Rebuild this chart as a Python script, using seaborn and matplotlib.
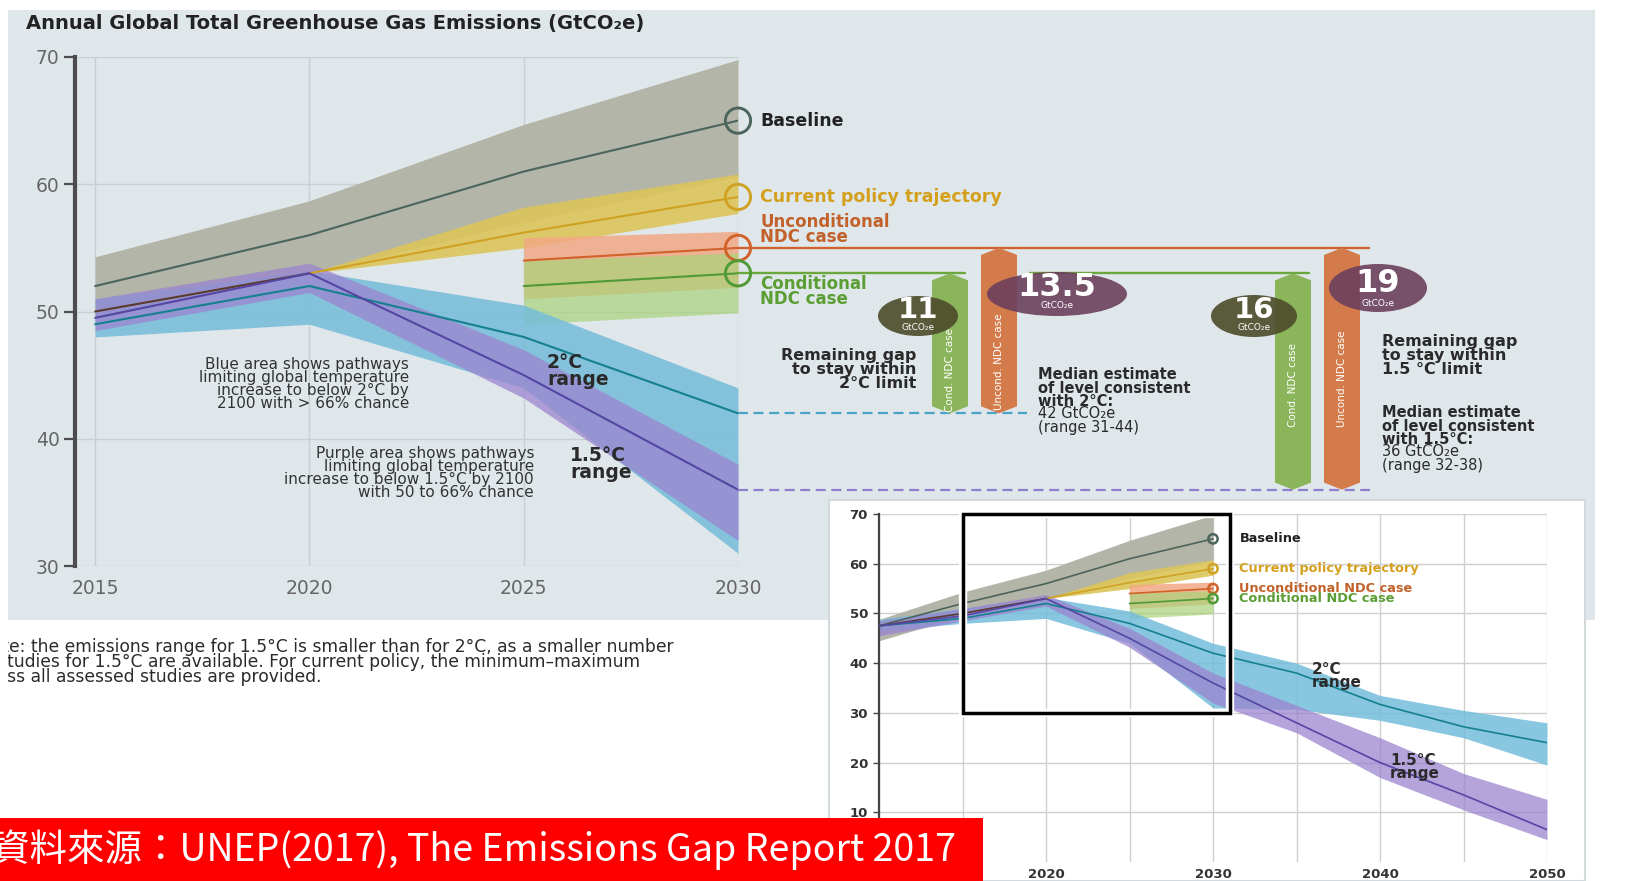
import matplotlib
matplotlib.use("Agg")
import pandas as pd
import matplotlib.pyplot as plt
import seaborn as sns
from matplotlib.patches import Rectangle, Ellipse, Polygon

# ---------------- values (GtCO2e) ----------------
years = [2015, 2020, 2025, 2030]
baseline_mid = [52, 56, 61, 65]
baseline_lo = [49.5, 53, 57, 60.6]
baseline_hi = [54.3, 58.7, 64.7, 69.8]

hist_years = [2015, 2020]
hist_mid = [50, 53]

policy_years = [2020, 2025, 2030]
policy_mid = [53, 56.2, 59]
policy_lo = [53, 55, 57.7]
policy_hi = [53, 58.2, 60.8]

ndc_years = [2025, 2030]
uncond_mid = [54, 55]
uncond_lo = [51, 51.9]
uncond_hi = [55.8, 56.3]
cond_mid = [52, 53]
cond_lo = [49, 49.9]
cond_hi = [54, 54.6]

deg2_mid = [49, 52, 48, 42]
deg2_lo = [48, 49, 44, 31]
deg2_hi = [51, 53.2, 50.5, 44]

deg15_mid = [49.5, 53, 45, 36]
deg15_lo = [48.5, 51.5, 43.2, 32]
deg15_hi = [51, 53.8, 47, 38]

# small panel, 2010-2050
long_years = [2010, 2015, 2020, 2025, 2030, 2035, 2040, 2045, 2050]
long_deg2_mid = [47.5, 49, 52, 48, 42, 38, 31.7, 27.2, 24]
long_deg2_lo = [46.5, 48, 49, 44, 31, 30.7, 28.5, 25, 19.5]
long_deg2_hi = [48.8, 51, 53.2, 50.5, 44, 40, 33.5, 30.5, 28]
long_deg15_mid = [47.5, 49.5, 53, 45, 36, 28, 20, 13.5, 6.5]
long_deg15_lo = [45.5, 48.5, 51.5, 43.2, 32, 26, 17, 10.5, 4.5]
long_deg15_hi = [48.5, 51, 53.8, 47, 38, 31.5, 25, 17.8, 12.6]
long_base_years = [2010, 2015, 2020, 2025, 2030]
long_base_mid = [47.5, 52, 56, 61, 65]
long_base_lo = [44.5, 49.5, 53, 57, 60.6]
long_base_hi = [48.8, 54.3, 58.7, 64.7, 69.8]
long_hist_years = [2010, 2015, 2020]
long_hist_mid = [47.5, 50, 53]

target_2c = 42
target_15 = 36
gap_labels = ['11', '13.5', '16', '19']
main_yticks = [30, 40, 50, 60, 70]
inset_yticks = [10, 20, 30, 40, 50, 60, 70]
inset_xticks = [2010, 2020, 2030, 2040, 2050]

# ---------------- colours ----------------
line_colors = {
    'baseline': '#4b655c', 'hist': '#5b3b2b', 'policy': '#cfa224',
    'uncond': '#d0622a', 'cond': '#4f9a36', 'deg2': '#15808f', 'deg15': '#5646a3',
}
band_colors = {
    'baseline': ('#b3b5a8', 1.0), 'policy': ('#dcc55a', 0.9),
    'uncond': ('#f2a884', 0.85), 'cond': ('#a9d27a', 0.7),
    'deg2': ('#74bcda', 0.85), 'deg15': ('#9c84cf', 0.75),
}
label_colors = {'baseline': '#222222', 'policy': '#d4a01c',
                'uncond': '#c2612a', 'cond': '#5a9e34'}
BG = '#e0e7eb'
TXT = '#2a2a2a'


def frame(name, xs, ys):
    return pd.DataFrame({'series': name, 'year': xs, 'value': ys})


main_bands = [
    ('baseline', years, baseline_lo, baseline_hi),
    ('policy', policy_years, policy_lo, policy_hi),
    ('uncond', ndc_years, uncond_lo, uncond_hi),
    ('cond', ndc_years, cond_lo, cond_hi),
    ('deg2', years, deg2_lo, deg2_hi),
    ('deg15', years, deg15_lo, deg15_hi),
]
main_lines = pd.concat([
    frame('baseline', years, baseline_mid), frame('hist', hist_years, hist_mid),
    frame('policy', policy_years, policy_mid), frame('uncond', ndc_years, uncond_mid),
    frame('cond', ndc_years, cond_mid), frame('deg2', years, deg2_mid),
    frame('deg15', years, deg15_mid),
])
long_bands = [
    ('baseline', long_base_years, long_base_lo, long_base_hi),
    ('policy', policy_years, policy_lo, policy_hi),
    ('uncond', ndc_years, uncond_lo, uncond_hi),
    ('cond', ndc_years, cond_lo, cond_hi),
    ('deg2', long_years, long_deg2_lo, long_deg2_hi),
    ('deg15', long_years, long_deg15_lo, long_deg15_hi),
]
long_lines = pd.concat([
    frame('baseline', long_base_years, long_base_mid), frame('hist', long_hist_years, long_hist_mid),
    frame('policy', policy_years, policy_mid), frame('uncond', ndc_years, uncond_mid),
    frame('cond', ndc_years, cond_mid), frame('deg2', long_years, long_deg2_mid),
    frame('deg15', long_years, long_deg15_mid),
])
ends = pd.DataFrame({'series': ['baseline', 'policy', 'uncond', 'cond'],
                     'value': [baseline_mid[-1], policy_mid[-1], uncond_mid[-1], cond_mid[-1]]})


def draw_pathways(axis, bands, lines, lw, marker_size):
    for name, xs, lo, hi in bands:
        c, a = band_colors[name]
        axis.fill_between(xs, lo, hi, color=c, alpha=a, lw=0, zorder=1)
    sns.lineplot(data=lines, x='year', y='value', hue='series', palette=line_colors,
                 estimator=None, sort=False, legend=False, lw=lw, ax=axis, zorder=3)
    for _, r in ends.iterrows():
        axis.scatter([2030], [r['value']], s=marker_size, facecolors='none',
                     edgecolors=line_colors[r['series']], linewidths=lw + 0.6,
                     zorder=5, clip_on=False)


sns.set_theme(style='white')
plt.rcParams['font.family'] = ['DejaVu Sans']
cjk = ['Noto Sans CJK TC', 'DejaVu Sans']

W, H = 1635, 881
fig = plt.figure(figsize=(W / 100, H / 100), dpi=100)


def fr(x, y, w, h):
    """pixel box (left, top, width, height) -> figure fraction rect"""
    return [x / W, 1 - (y + h) / H, w / W, h / H]


fig.add_artist(Rectangle((8 / W, 1 - 620 / H), 1587 / W, 610 / H,
                         transform=fig.transFigure, facecolor=BG, lw=0, zorder=-1))

# ---------------- main chart ----------------
X0 = 2014.53
ax = fig.add_axes(fr(75, 57, 663, 509), zorder=1)
ax.set_facecolor('none')
draw_pathways(ax, main_bands, main_lines, 1.5, 330)
ax.set_xlim(X0, 2030)
ax.set_ylim(30, 70)
ax.set_xticks(years)
ax.set_yticks(main_yticks)
ax.grid(True, color='#c8d0d4', lw=1)
ax.set_axisbelow(True)
for s in ['top', 'right', 'bottom']:
    ax.spines[s].set_visible(False)
ax.spines['left'].set_color('#4d4d4d')
ax.spines['left'].set_linewidth(3)
ax.tick_params(axis='y', length=8, width=1.6, color='#4d4d4d', labelsize=13.5,
               labelcolor='#666666', pad=3, left=True)
ax.tick_params(axis='x', length=0, labelsize=13.5, labelcolor='#666666', pad=9)
ax.set_xlabel('')
ax.set_ylabel('')

PX_YR = 663 / (2030 - X0)
PX_UNIT = 509 / 40


def px2yr(px):
    return X0 + (px - 75) / PX_YR


# labels next to the 2030 circles
for key, txt in [('baseline', 'Baseline'), ('policy', 'Current policy trajectory')]:
    v = ends.loc[ends.series == key, 'value'].iloc[0]
    ax.annotate(txt, (2030, v), xytext=(16, 0), textcoords='offset points', va='center',
                ha='left', fontsize=12.5, fontweight='bold', color=label_colors[key],
                annotation_clip=False)
ax.annotate('Unconditional\nNDC case', (2030, uncond_mid[-1]), xytext=(16, 1),
            textcoords='offset points', va='bottom', ha='left', fontsize=12,
            fontweight='bold', color=label_colors['uncond'], linespacing=0.82,
            annotation_clip=False)
ax.annotate('Conditional\nNDC case', (2030, cond_mid[-1]), xytext=(16, -1),
            textcoords='offset points', va='top', ha='left', fontsize=12,
            fontweight='bold', color=label_colors['cond'], linespacing=0.82,
            annotation_clip=False)

# reference lines toward the gap arrows
ax.plot([2030, px2yr(1369)], [uncond_mid[-1]] * 2, color=line_colors['uncond'], lw=1.7,
        clip_on=False, zorder=2)
ax.plot([2030, px2yr(965)], [cond_mid[-1]] * 2, color='#6aa83e', lw=1.7, clip_on=False, zorder=2)
ax.plot([px2yr(1030), px2yr(1309)], [cond_mid[-1]] * 2, color='#6aa83e', lw=1.7,
        clip_on=False, zorder=2)
ax.plot([2030, px2yr(1027)], [target_2c] * 2, color='#4aa3c6', lw=1.6, dashes=(4.5, 2.5),
        clip_on=False, zorder=2)
ax.plot([2030, px2yr(1370)], [target_15] * 2, color='#8f7fcf', lw=1.6, dashes=(4.5, 2.5),
        clip_on=False, zorder=2)


def gap_arrow(xc_px, lo, hi, color):
    w = 18 / PX_YR
    hh = 7 / PX_UNIT
    xc = px2yr(xc_px)
    pts = [(xc - w, lo + hh), (xc, lo), (xc + w, lo + hh),
           (xc + w, hi - hh), (xc, hi), (xc - w, hi - hh)]
    ax.add_patch(Polygon(pts, closed=True, facecolor=color, edgecolor='none',
                         clip_on=False, zorder=4))


gap_arrow(950, target_2c, cond_mid[-1], '#8ab55a')
gap_arrow(999, target_2c, uncond_mid[-1], '#d47b4c')
gap_arrow(1293, target_15, cond_mid[-1], '#8ab55a')
gap_arrow(1342, target_15, uncond_mid[-1], '#d47b4c')

# ---------------- annotation layer (pixel coordinates) ----------------
ov = fig.add_axes([0, 0, 1, 1], zorder=2)
ov.set_xlim(0, W)
ov.set_ylim(H, 0)
ov.axis('off')

fig.text(26 / W, 1 - 23 / H, 'Annual Global Total Greenhouse Gas Emissions (GtCO\u2082e)',
         fontsize=14, fontweight='bold', color='#222222', va='center', ha='left')

for x, y, txt in [(950, 370, 'Cond. NDC case'), (999, 362, 'Uncond. NDC case'),
                  (1293, 385, 'Cond. NDC case'), (1342, 379, 'Uncond. NDC case')]:
    ov.text(x, y, txt, rotation=90, ha='center', va='center', color='white',
            fontsize=7.5, zorder=6)

bubbles = [(918, 316, 80, 40, '#4c4b2a', 310, 328, 21),
           (1057, 294, 140, 44, '#6c3f5c', 288, 306, 23),
           (1254, 316, 86, 42, '#4c4b2a', 310, 328, 21),
           (1378, 288, 98, 48, '#6c3f5c', 283, 303, 23)]
for (cx, cy, bw, bh, col, ty, uy, fs), lab in zip(bubbles, gap_labels):
    ov.add_patch(Ellipse((cx, cy), bw, bh, facecolor=col, alpha=0.9, lw=0, zorder=7))
    ov.text(cx, ty, lab, ha='center', va='center', color='white', fontsize=fs,
            fontweight='bold', zorder=8)
    ov.text(cx, uy, 'GtCO\u2082e', ha='center', va='center', color='white',
            fontsize=6.5, zorder=8)

ov.text(916, 348, 'Remaining gap\nto stay within\n2°C limit', ha='right', va='top',
        fontsize=11.5, fontweight='bold', color=TXT, linespacing=0.92)
ov.text(1038, 367, 'Median estimate\nof level consistent\nwith 2°C:', ha='left', va='top',
        fontsize=10.5, fontweight='bold', color=TXT, linespacing=0.88)
ov.text(1038, 406, '42 GtCO\u2082e\n(range 31-44)', ha='left', va='top',
        fontsize=10.5, color=TXT, linespacing=0.88)
ov.text(1382, 334, 'Remaining gap\nto stay within\n1.5 °C limit', ha='left', va='top',
        fontsize=11.5, fontweight='bold', color=TXT, linespacing=0.92)
ov.text(1382, 405, 'Median estimate\nof level consistent\nwith 1.5°C:', ha='left', va='top',
        fontsize=10.5, fontweight='bold', color=TXT, linespacing=0.88)
ov.text(1382, 444, '36 GtCO\u2082e\n(range 32-38)', ha='left', va='top',
        fontsize=10.5, color=TXT, linespacing=0.88)

ov.text(409, 357, 'Blue area shows pathways\nlimiting global temperature\n'
        'increase to below 2°C by\n2100 with > 66% chance', ha='right', va='top',
        fontsize=11, color='#333333', linespacing=0.82)
ov.text(534, 446, 'Purple area shows pathways\nlimiting global temperature\n'
        'increase to below 1.5°C by 2100\nwith 50 to 66% chance', ha='right', va='top',
        fontsize=11, color='#333333', linespacing=0.82)
ov.text(547, 353, '2°C\nrange', ha='left', va='top', fontsize=13.5, fontweight='bold',
        color=TXT, linespacing=0.84)
ov.text(570, 446, '1.5°C\nrange', ha='left', va='top', fontsize=13.5, fontweight='bold',
        color=TXT, linespacing=0.84)

# ---------------- footnote (clipped at the panel's left edge) ----------------
note = fig.add_axes(fr(8, 630, 800, 60), zorder=1)
note.set_xlim(8, 808)
note.set_ylim(690, 630)
note.axis('off')
note_lines = ['Note: the emissions range for 1.5°C is smaller than for 2°C, as a smaller number',
              'of studies for 1.5°C are available. For current policy, the minimum\u2013maximum',
              'across all assessed studies are provided.']
for x, y, txt in zip([-21, -24, -30], [647, 662, 677], note_lines):
    note.text(x, y, txt, ha='left', va='center', fontsize=12.3, color='#2b2b2b', clip_on=True)

# ---------------- long-term small panel ----------------
fig.add_artist(Rectangle((829 / W, 0), 756 / W, 381 / H, transform=fig.transFigure,
                         facecolor='white', edgecolor='#d2dade', lw=1.5, zorder=2.5))
ins = fig.add_axes(fr(879, 514, 668, 348), zorder=3)
ins.set_facecolor('white')
draw_pathways(ins, long_bands, long_lines, 1.2, 45)
ins.set_xlim(2010, 2050)
ins.set_ylim(0, 70)
ins.set_xticks(inset_xticks)
ins.set_xticks([2015, 2025, 2035, 2045], minor=True)
ins.set_yticks(inset_yticks)
ins.grid(True, which='both', color='#cfcfcf', lw=1)
ins.set_axisbelow(True)
for s in ['top', 'right', 'bottom']:
    ins.spines[s].set_visible(False)
ins.spines['left'].set_color('#444444')
ins.spines['left'].set_linewidth(1.6)
ins.tick_params(axis='y', length=4, width=1, color='#444444', labelsize=9.5, labelcolor='#333333',
                left=True, pad=4)
ins.tick_params(axis='x', which='both', length=0, labelsize=9.5, labelcolor='#333333', pad=4)
for lab in ins.get_yticklabels() + ins.get_xticklabels():
    lab.set_fontweight('bold')
ins.set_xlabel('')
ins.set_ylabel('')
for key, txt in [('baseline', 'Baseline'), ('policy', 'Current policy trajectory'),
                 ('uncond', 'Unconditional NDC case'), ('cond', 'Conditional NDC case')]:
    v = ends.loc[ends.series == key, 'value'].iloc[0]
    ins.annotate(txt, (2030, v), xytext=(19, 0), textcoords='offset points', va='center',
                 ha='left', fontsize=9.3, fontweight='bold', color=label_colors[key],
                 annotation_clip=False)
ins.text(2035.9, 40.2, '2°C\nrange', ha='left', va='top', fontsize=11, fontweight='bold',
         color=TXT, linespacing=0.84)
ins.text(2040.6, 21.9, '1.5°C\nrange', ha='left', va='top', fontsize=11, fontweight='bold',
         color=TXT, linespacing=0.84)
ins.add_patch(Rectangle((2015, 30), 16, 40, fill=False, edgecolor='white', lw=6,
                        zorder=6, clip_on=False))
ins.add_patch(Rectangle((2015, 30), 16, 40, fill=False, edgecolor='black', lw=2.5,
                        zorder=7, clip_on=False))

# ---------------- source banner ----------------
fig.add_artist(Rectangle((0, 0), 983 / W, 63 / H, transform=fig.transFigure,
                         facecolor='#ff0000', lw=0, zorder=10))
fig.text(-8 / W, 1 - 850 / H, '資料來源：UNEP(2017), The Emissions Gap Report 2017',
         color='white', fontsize=27, family=cjk, ha='left', va='center', zorder=11)

fig.savefig('out.png', dpi=100)
